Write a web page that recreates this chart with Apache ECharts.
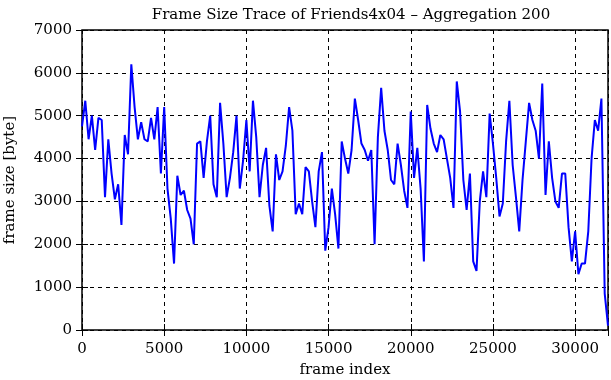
<!DOCTYPE html>
<html lang="en">

<head>
    <meta charset="UTF-8">
    <script src="https://cdn.jsdelivr.net/npm/echarts@6.0.0/dist/echarts.min.js"></script>
    <title>frame size trace</title>
</head>

<body style="margin:0;background:#fff;">
    <div id="traceChart" style="width: 611px;height: 380px;"></div>
    <script>
        // aggregated frame sizes, one value every 200 frames
        var aggStep = 200;
        var frameSize = [
            4750, 5350, 4450, 5000, 4200, 4950, 4900, 3100, 4450, 3650,
            3050, 3400, 2450, 4550, 4100, 6200, 5200, 4450, 4850, 4450,
            4400, 4950, 4450, 5200, 3650, 5200, 3300, 2600, 1550, 3600,
            3150, 3250, 2800, 2600, 2000, 4350, 4400, 3550, 4400, 5000,
            3400, 3100, 5300, 4350, 3100, 3550, 4150, 5000, 3300, 3950,
            4900, 3700, 5350, 4500, 3100, 3850, 4250, 2900, 2300, 4100,
            3500, 3700, 4300, 5200, 4650, 2700, 2950, 2700, 3800, 3700,
            3000, 2400, 3700, 4150, 1850, 2400, 3300, 2700, 1900, 4400,
            4000, 3650, 4200, 5400, 4900, 4350, 4200, 3950, 4200, 2000,
            4500, 5650, 4650, 4200, 3500, 3400, 4350, 3850, 3250, 2850,
            5100, 3550, 4250, 3300, 1600, 5250, 4700, 4350, 4150, 4550,
            4450, 4000, 3550, 2850, 5800, 5100, 3500, 2800, 3650, 1600,
            1380, 3000, 3700, 3100, 5050, 4350, 3550, 2650, 2950, 4400,
            5350, 3850, 3100, 2300, 3500, 4400, 5300, 4900, 4650, 4000,
            5750, 3150, 4400, 3550, 3000, 2850, 3650, 3650, 2400, 1600,
            2300, 1300, 1550, 1550, 2300, 4000, 4900, 4650, 5400, 850,
            100
        ];
        var xTicks = [0, 5000, 10000, 15000, 20000, 25000, 30000];
        var yTicks = [0, 1000, 2000, 3000, 4000, 5000, 6000, 7000];

        var seriesData = frameSize.map(function (v, i) {
            return [i * aggStep, v];
        });

        var serif = 'DejaVu Serif';
        var dashGrid = {
            show: true,
            lineStyle: { color: '#000', width: 1, type: [4, 4] }
        };
        var tickIn = { show: true, inside: true, length: 6, lineStyle: { color: '#000', width: 1 } };
        var plain = function (v) { return String(v); };

        var chart = echarts.init(document.getElementById('traceChart'));
        chart.setOption({
            animation: false,
            backgroundColor: '#fff',
            title: {
                text: 'Frame Size Trace of Friends4x04 \u2013 Aggregation 200',
                left: 346,
                top: 3,
                textAlign: 'center',
                textStyle: { fontFamily: serif, fontSize: 15, fontWeight: 'normal', color: '#000' }
            },
            grid: {
                left: 82,
                right: 3,
                top: 30,
                bottom: 50,
                outerBoundsMode: 'none',
                containLabel: false,
                show: true,
                borderColor: '#000',
                borderWidth: 1.5
            },
            xAxis: [{
                type: 'value',
                min: xTicks[0],
                max: 32000,
                interval: 5000,
                name: 'frame index',
                nameLocation: 'middle',
                nameGap: 33,
                nameTextStyle: { fontFamily: serif, fontSize: 15, color: '#000' },
                axisLine: { show: false },
                axisTick: tickIn,
                splitLine: dashGrid,
                axisLabel: {
                    margin: 12,
                    showMaxLabel: false,
                    formatter: plain,
                    fontFamily: serif, fontSize: 15, color: '#000'
                }
            }, {
                type: 'value',
                position: 'top',
                min: xTicks[0],
                max: 32000,
                interval: 5000,
                axisLine: { show: false },
                axisTick: tickIn,
                splitLine: { show: false },
                axisLabel: { show: false }
            }],
            yAxis: [{
                type: 'value',
                min: yTicks[0],
                max: yTicks[yTicks.length - 1],
                interval: 1000,
                name: 'frame size [byte]',
                nameLocation: 'middle',
                nameGap: 64,
                nameRotate: 90,
                nameTextStyle: { fontFamily: serif, fontSize: 15, color: '#000' },
                axisLine: { show: false },
                axisTick: tickIn,
                splitLine: dashGrid,
                axisLabel: { margin: 10, formatter: plain, fontFamily: serif, fontSize: 15, color: '#000' }
            }, {
                type: 'value',
                position: 'right',
                min: yTicks[0],
                max: yTicks[yTicks.length - 1],
                interval: 1000,
                axisLine: { show: false },
                axisTick: tickIn,
                splitLine: { show: false },
                axisLabel: { show: false }
            }],
            series: [{
                type: 'line',
                data: seriesData,
                showSymbol: false,
                symbol: 'none',
                lineStyle: { color: '#0000ff', width: 2 },
                z: 5
            }]
        });
    </script>
</body>

</html>
